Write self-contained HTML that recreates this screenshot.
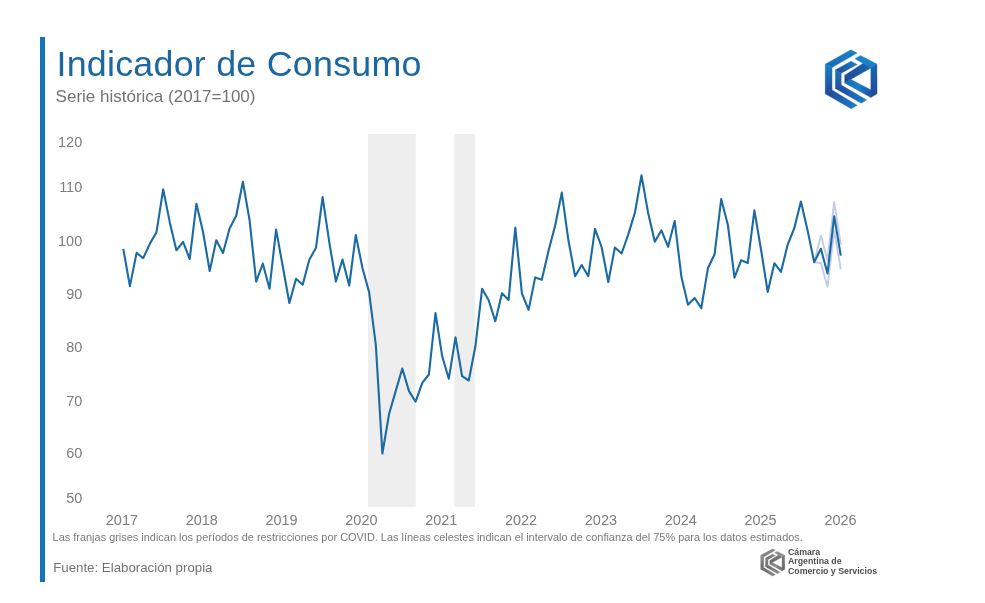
<!DOCTYPE html>
<html lang="es"><head><meta charset="utf-8"><title>Indicador de Consumo</title>
<style>
html,body{margin:0;padding:0;background:#fff;}
body{width:985px;height:603px;position:relative;overflow:hidden;font-family:"Liberation Sans",Arial,sans-serif;}
.bar{position:absolute;left:40.3px;top:37px;width:4.6px;height:545.2px;background:#1474b9;}
h1{position:absolute;left:56.5px;top:44.3px;margin:0;font-weight:400;font-size:35.8px;line-height:40px;color:#1a67a2;white-space:nowrap;letter-spacing:0.25px;}
.sub{position:absolute;left:55.6px;top:88px;font-size:17px;line-height:18px;color:#737373;white-space:nowrap;}
.note{position:absolute;left:52.6px;top:530.7px;font-size:10.95px;line-height:12px;color:#7a7a7a;white-space:nowrap;}
.src{position:absolute;left:53.2px;top:560px;font-size:13.28px;line-height:15px;color:#737373;white-space:nowrap;}
svg{position:absolute;left:0;top:0;}
.ax text{font-family:"Liberation Sans",Arial,sans-serif;font-size:14.45px;fill:#7d7d7d;}
.brand{position:absolute;left:788px;top:547.8px;font-size:8.78px;line-height:9.45px;font-weight:700;color:#4f4f4f;white-space:nowrap;}
</style></head><body>
<div class="bar"></div>
<h1>Indicador de Consumo</h1>
<div class="sub">Serie histórica (2017=100)</div>
<svg width="985" height="603" viewBox="0 0 985 603">
<rect x="367.9" y="133.9" width="47.8" height="373" fill="#eeeeee"/>
<rect x="454.3" y="133.9" width="20.6" height="373" fill="#eeeeee"/>
<g class="ax"><text x="82.2" y="147.2" text-anchor="end">120</text><text x="82.2" y="192.3" text-anchor="end">110</text><text x="82.2" y="245.8" text-anchor="end">100</text><text x="82.2" y="299.1" text-anchor="end">90</text><text x="82.2" y="352.0" text-anchor="end">80</text><text x="82.2" y="405.6" text-anchor="end">70</text><text x="82.2" y="458.3" text-anchor="end">60</text><text x="82.2" y="503.1" text-anchor="end">50</text><text x="121.9" y="525" text-anchor="middle">2017</text><text x="201.7" y="525" text-anchor="middle">2018</text><text x="281.6" y="525" text-anchor="middle">2019</text><text x="361.4" y="525" text-anchor="middle">2020</text><text x="441.3" y="525" text-anchor="middle">2021</text><text x="521.1" y="525" text-anchor="middle">2022</text><text x="600.9" y="525" text-anchor="middle">2023</text><text x="680.8" y="525" text-anchor="middle">2024</text><text x="760.6" y="525" text-anchor="middle">2025</text><text x="840.5" y="525" text-anchor="middle">2026</text></g>
<polyline points="814.2,262.2 820.9,235.6 827.5,260.2 834.2,201.9 840.8,244.7" fill="none" stroke="#c3cbe6" stroke-width="1.9" stroke-linejoin="round"/>
<polyline points="814.2,262.2 820.9,263.0 827.5,286.7 834.2,231.0 840.8,269.3" fill="none" stroke="#c3cbe6" stroke-width="1.9" stroke-linejoin="round"/>
<polyline points="123.3,248.9 129.9,286.1 136.6,252.9 143.2,258.2 149.9,243.6 156.5,232.2 163.2,189.2 169.8,222.4 176.4,250.3 183.1,241.8 189.7,259.0 196.4,203.8 203.0,231.7 209.7,271.0 216.3,240.2 223.0,252.9 229.6,228.5 236.2,215.7 242.9,181.8 249.5,219.7 256.2,281.6 262.8,263.5 269.5,288.8 276.1,229.6 282.7,266.0 289.4,303.0 296.0,278.8 302.7,284.7 309.3,259.7 316.0,247.8 322.6,197.1 329.2,241.7 335.9,281.5 342.5,259.5 349.2,285.5 355.8,235.0 362.5,268.2 369.1,292.1 375.8,344.6 382.4,453.5 389.0,414.3 395.7,391.1 402.3,368.5 409.0,391.1 415.6,401.7 422.3,382.8 428.9,374.5 435.5,313.1 442.2,356.3 448.8,378.8 455.5,337.4 462.1,376.2 468.8,380.5 475.4,346.3 482.1,288.8 488.7,300.3 495.3,321.3 502.0,293.3 508.6,300.0 515.3,227.6 521.9,293.3 528.6,309.9 535.2,277.4 541.8,279.8 548.5,251.0 555.1,225.7 561.8,192.6 568.4,240.3 575.1,276.2 581.7,265.0 588.3,276.2 595.0,228.9 601.6,247.0 608.3,282.0 614.9,247.5 621.6,253.5 628.2,234.6 634.9,212.8 641.5,175.4 648.1,212.8 654.8,241.8 661.4,230.3 668.1,246.8 674.7,221.1 681.4,276.8 688.0,304.7 694.6,298.0 701.3,308.1 707.9,268.3 714.6,254.2 721.2,199.0 727.9,225.0 734.5,277.6 741.1,260.3 747.8,263.0 754.4,210.4 761.1,250.0 767.7,291.9 774.4,263.2 781.0,271.8 787.7,244.6 794.3,228.2 800.9,201.6 807.6,230.4 814.2,262.2 820.9,248.8 827.5,273.4 834.2,216.4 840.8,255.6" fill="none" stroke="#1a6ba3" stroke-width="2.1" stroke-linejoin="round" stroke-linecap="butt"/>
<g transform="translate(820,45) scale(0.11605)"><defs>
<linearGradient id="ba" gradientUnits="userSpaceOnUse" x1="45" y1="180" x2="325" y2="60"><stop offset="0" stop-color="#1a68b2"/><stop offset="1" stop-color="#1c80ca"/></linearGradient>
<linearGradient id="bb" gradientUnits="userSpaceOnUse" x1="0" y1="165" x2="0" y2="425"><stop offset="0" stop-color="#1c80ca"/><stop offset="1" stop-color="#1f4796"/></linearGradient>
<linearGradient id="bc" gradientUnits="userSpaceOnUse" x1="60" y1="410" x2="320" y2="540"><stop offset="0" stop-color="#1f4796"/><stop offset="1" stop-color="#1c80ca"/></linearGradient>
<linearGradient id="bd" gradientUnits="userSpaceOnUse" x1="135" y1="230" x2="320" y2="150"><stop offset="0" stop-color="#1f4796"/><stop offset="1" stop-color="#1c80ca"/></linearGradient>
<linearGradient id="be" gradientUnits="userSpaceOnUse" x1="140" y1="360" x2="400" y2="490"><stop offset="0" stop-color="#1f4796"/><stop offset="1" stop-color="#1c80ca"/></linearGradient>
<linearGradient id="bf" gradientUnits="userSpaceOnUse" x1="215" y1="300" x2="440" y2="170"><stop offset="0" stop-color="#1f4796"/><stop offset="1" stop-color="#1a68b2"/></linearGradient>
<linearGradient id="bg" gradientUnits="userSpaceOnUse" x1="215" y1="320" x2="460" y2="440"><stop offset="0" stop-color="#1a68b2"/><stop offset="0.45" stop-color="#1c80ca"/><stop offset="1" stop-color="#1f4796"/></linearGradient>
<linearGradient id="bh" gradientUnits="userSpaceOnUse" x1="0" y1="165" x2="0" y2="455"><stop offset="0" stop-color="#1a68b2"/><stop offset="1" stop-color="#1f4796"/></linearGradient>
</defs><polygon points="266,41 321,70 104,194 45,165" fill="url(#ba)" stroke="url(#ba)" stroke-width="3" stroke-linejoin="miter"/><polygon points="45,164 104,193 104,388 45,422" fill="url(#bb)" stroke="url(#bb)" stroke-width="3" stroke-linejoin="miter"/><polygon points="45,421 104,387 321,519 268,550" fill="url(#bc)" stroke="url(#bc)" stroke-width="3" stroke-linejoin="miter"/><polygon points="132,215 267,140 321,167 183,244" fill="url(#bd)" stroke="url(#bd)" stroke-width="3" stroke-linejoin="miter"/><polygon points="132,214 183,243 183,345 132,376" fill="url(#bb)" stroke="url(#bb)" stroke-width="3" stroke-linejoin="miter"/><polygon points="132,375 183,344 403,473 355,502" fill="url(#be)" stroke="url(#be)" stroke-width="3" stroke-linejoin="miter"/><polygon points="301,118 349,91 491,164 438,198" fill="#1c80ca" stroke="#1c80ca" stroke-width="3" stroke-linejoin="miter"/><polygon points="438,197 491,163 492,421 438,453" fill="url(#bh)" stroke="url(#bh)" stroke-width="3" stroke-linejoin="miter"/><polygon points="213,261 372,157 439,198 264,297" fill="url(#bf)" stroke="url(#bf)" stroke-width="3" stroke-linejoin="miter"/><polygon points="213,260 264,296 264,297 213,328" fill="#1f4796" stroke="#1f4796" stroke-width="3" stroke-linejoin="miter"/><polygon points="212,327 264,295 440,387 438,453" fill="url(#bg)" stroke="url(#bg)" stroke-width="3" stroke-linejoin="miter"/></g><g transform="translate(758.15,546.4) scale(0.0543)"><defs>
<linearGradient id="ga" gradientUnits="userSpaceOnUse" x1="45" y1="180" x2="325" y2="60"><stop offset="0" stop-color="#7c7c7c"/><stop offset="1" stop-color="#8e8e8e"/></linearGradient>
<linearGradient id="gb" gradientUnits="userSpaceOnUse" x1="0" y1="165" x2="0" y2="425"><stop offset="0" stop-color="#8e8e8e"/><stop offset="1" stop-color="#6a6a6a"/></linearGradient>
<linearGradient id="gc" gradientUnits="userSpaceOnUse" x1="60" y1="410" x2="320" y2="540"><stop offset="0" stop-color="#6a6a6a"/><stop offset="1" stop-color="#8e8e8e"/></linearGradient>
<linearGradient id="gd" gradientUnits="userSpaceOnUse" x1="135" y1="230" x2="320" y2="150"><stop offset="0" stop-color="#6a6a6a"/><stop offset="1" stop-color="#8e8e8e"/></linearGradient>
<linearGradient id="ge" gradientUnits="userSpaceOnUse" x1="140" y1="360" x2="400" y2="490"><stop offset="0" stop-color="#6a6a6a"/><stop offset="1" stop-color="#8e8e8e"/></linearGradient>
<linearGradient id="gf" gradientUnits="userSpaceOnUse" x1="215" y1="300" x2="440" y2="170"><stop offset="0" stop-color="#6a6a6a"/><stop offset="1" stop-color="#7c7c7c"/></linearGradient>
<linearGradient id="gg" gradientUnits="userSpaceOnUse" x1="215" y1="320" x2="460" y2="440"><stop offset="0" stop-color="#7c7c7c"/><stop offset="0.45" stop-color="#8e8e8e"/><stop offset="1" stop-color="#6a6a6a"/></linearGradient>
<linearGradient id="gh" gradientUnits="userSpaceOnUse" x1="0" y1="165" x2="0" y2="455"><stop offset="0" stop-color="#7c7c7c"/><stop offset="1" stop-color="#6a6a6a"/></linearGradient>
</defs><polygon points="266,41 321,70 104,194 45,165" fill="url(#ga)" stroke="url(#ga)" stroke-width="3" stroke-linejoin="miter"/><polygon points="45,164 104,193 104,388 45,422" fill="url(#gb)" stroke="url(#gb)" stroke-width="3" stroke-linejoin="miter"/><polygon points="45,421 104,387 321,519 268,550" fill="url(#gc)" stroke="url(#gc)" stroke-width="3" stroke-linejoin="miter"/><polygon points="132,215 267,140 321,167 183,244" fill="url(#gd)" stroke="url(#gd)" stroke-width="3" stroke-linejoin="miter"/><polygon points="132,214 183,243 183,345 132,376" fill="url(#gb)" stroke="url(#gb)" stroke-width="3" stroke-linejoin="miter"/><polygon points="132,375 183,344 403,473 355,502" fill="url(#ge)" stroke="url(#ge)" stroke-width="3" stroke-linejoin="miter"/><polygon points="301,118 349,91 491,164 438,198" fill="#8e8e8e" stroke="#8e8e8e" stroke-width="3" stroke-linejoin="miter"/><polygon points="438,197 491,163 492,421 438,453" fill="url(#gh)" stroke="url(#gh)" stroke-width="3" stroke-linejoin="miter"/><polygon points="213,261 372,157 439,198 264,297" fill="url(#gf)" stroke="url(#gf)" stroke-width="3" stroke-linejoin="miter"/><polygon points="213,260 264,296 264,297 213,328" fill="#6a6a6a" stroke="#6a6a6a" stroke-width="3" stroke-linejoin="miter"/><polygon points="212,327 264,295 440,387 438,453" fill="url(#gg)" stroke="url(#gg)" stroke-width="3" stroke-linejoin="miter"/></g>
</svg>
<div class="note">Las franjas grises indican los períodos de restricciones por COVID. Las líneas celestes indican el intervalo de confianza del 75% para los datos estimados.</div>
<div class="src">Fuente: Elaboración propia</div>
<div class="brand">Cámara<br>Argentina de<br>Comercio y Servicios</div>
</body></html>
